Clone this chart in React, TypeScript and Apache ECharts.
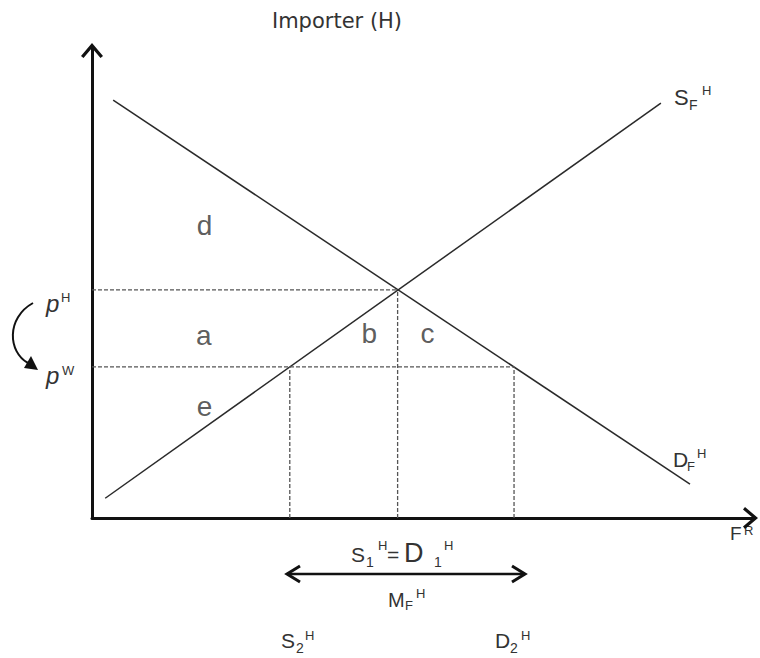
import React, { useEffect, useRef } from "react";
import * as echarts from "echarts";

// ---- data (axis units 0..100) ----
const supplyLine: number[][] = [[2.0, 4.2], [86.0, 88.2]];
const demandLine: number[][] = [[3.2, 88.8], [90.4, 7.2]];
const priceHome = 48.5; // p^H
const priceWorld = 32.1; // p^W
const qtySupplyWorld = 29.9; // S2^H
const qtyEquilibrium = 46.2; // S1^H = D1^H
const qtyDemandWorld = 63.8; // D2^H
const regionLabels = ["d", "a", "b", "c", "e"];
const regionX = [17.0, 16.9, 41.9, 50.7, 17.0];
const regionY = [62.2, 38.8, 39.3, 39.3, 23.8];
const titleText = "Importer (H)";

const INK = "#333";
const FONT = "Liberation Sans";
const CHEVRON = "path://M11,0L22,13L19.5,15L11,5L2.5,15L0,13Z";

function t(x: number, y: number, text: string, size: number, extra: any = {}) {
  return {
    type: "text",
    x,
    y,
    silent: true,
    style: {
      text,
      fontSize: size,
      fontFamily: FONT,
      fill: INK,
      align: "left",
      verticalAlign: "middle",
      ...extra,
    },
  };
}

export default function App() {
  const ref = useRef<HTMLDivElement>(null);
  useEffect(() => {
    if (!ref.current) return;
    const chart = echarts.init(ref.current, undefined, { renderer: "svg" });
    const dashed = { color: "#555", width: 1.3, type: [4, 2] as any };
    const solid = { color: "#2a2a2a", width: 1.5 };
    const lineSeries = (data: number[][], style: any) => ({
      type: "line",
      data,
      symbol: "none",
      silent: true,
      lineStyle: style,
      z: 3,
    });
    const axisCommon = {
      type: "value",
      min: 0,
      max: 100,
      axisLine: {
        show: true,
        onZero: false,
        symbol: ["none", CHEVRON],
        symbolSize: [22, 15],
        symbolOffset: [0, -3],
        lineStyle: { color: "#111", width: 3 },
      },
      axisTick: { show: false },
      axisLabel: { show: false },
      splitLine: { show: false },
    };

    const graphic: any[] = [
      // title
      {
        type: "text",
        x: 337,
        y: 21,
        silent: true,
        style: {
          text: titleText,
          fontSize: 21,
          fontFamily: "DejaVu Sans",
          fill: INK,
          align: "center",
          verticalAlign: "middle",
        },
      },
      // S_F^H
      t(674, 97.4, "S", 22),
      t(689, 105.2, "F", 14),
      t(702, 90.5, "H", 13),
      // D_F^H
      t(673, 459.7, "D", 21),
      t(687, 466.5, "F", 13),
      t(697, 453.5, "H", 13),
      // F^R
      t(730, 533.4, "F", 19),
      t(744, 530.5, "R", 13),
      // p^H, p^W
      t(46, 303.2, "p", 24, { fontStyle: "italic" }),
      t(61, 297.5, "H", 13),
      t(46, 375.2, "p", 24, { fontStyle: "italic" }),
      t(62, 370.5, "W", 13),
      // curved arrow
      {
        type: "bezierCurve",
        silent: true,
        shape: { x1: 33, y1: 303, cpx1: 6, cpy1: 318, cpx2: 8, cpy2: 352, x2: 28, y2: 363 },
        style: { stroke: "#111", lineWidth: 2, fill: "none" },
      },
      {
        type: "polygon",
        silent: true,
        shape: { points: [[38, 370], [24, 368], [31, 356]] },
        style: { fill: "#111" },
      },
      // S1^H = D1^H
      t(351, 554.7, "S", 21),
      t(366, 562.2, "1", 14),
      t(378, 545.5, "H", 13),
      t(387, 554.7, "=", 21),
      t(404, 552.6, "D", 27),
      t(434, 562, "1", 14),
      t(444, 545.5, "H", 13),
      // double arrow
      {
        type: "line",
        silent: true,
        shape: { x1: 287, y1: 574, x2: 525, y2: 574 },
        style: { stroke: "#111", lineWidth: 2.5 },
      },
      {
        type: "polyline",
        silent: true,
        shape: { points: [[300, 566], [287, 574], [300, 582]] },
        style: { stroke: "#111", lineWidth: 3, fill: "none" },
      },
      {
        type: "polyline",
        silent: true,
        shape: { points: [[512, 566], [525, 574], [512, 582]] },
        style: { stroke: "#111", lineWidth: 3, fill: "none" },
      },
      // M_F^H
      t(388, 600, "M", 20),
      t(405, 605.5, "F", 13),
      t(416, 593.5, "H", 13),
      // S2^H, D2^H
      t(281, 640.7, "S", 21),
      t(296, 648, "2", 14),
      t(305, 635.5, "H", 13),
      t(495, 640.7, "D", 21),
      t(510, 648, "2", 14),
      t(521, 635.5, "H", 13),
    ];

    chart.setOption({
      animation: false,
      backgroundColor: "#fff",
      grid: { left: 92, right: 6.5, top: 47.5, bottom: 140, containLabel: false, outerBoundsMode: "none" },
      xAxis: axisCommon,
      yAxis: axisCommon,
      series: [
        lineSeries(supplyLine, solid),
        lineSeries(demandLine, solid),
        lineSeries([[0, priceHome], [qtyEquilibrium, priceHome]], dashed),
        lineSeries([[0, priceWorld], [qtyDemandWorld, priceWorld]], dashed),
        lineSeries([[qtySupplyWorld, 0], [qtySupplyWorld, priceWorld]], dashed),
        lineSeries([[qtyEquilibrium, 0], [qtyEquilibrium, priceHome]], dashed),
        lineSeries([[qtyDemandWorld, 0], [qtyDemandWorld, priceWorld]], dashed),
        {
          type: "scatter",
          silent: true,
          symbolSize: 1,
          itemStyle: { color: "transparent" },
          data: regionLabels.map((n, i) => ({ name: n, value: [regionX[i], regionY[i]] })),
          label: {
            show: true,
            position: "inside",
            formatter: (p: any) => p.name,
            fontSize: 28,
            fontFamily: FONT,
            color: INK,
            align: "center",
            verticalAlign: "middle",
          },
          z: 4,
        },
      ],
      graphic,
    });
    return () => chart.dispose();
  }, []);
  return (
    <div
      ref={ref}
      style={{ position: "absolute", left: 0, top: 0, width: 760, height: 658 }}
    />
  );
}
